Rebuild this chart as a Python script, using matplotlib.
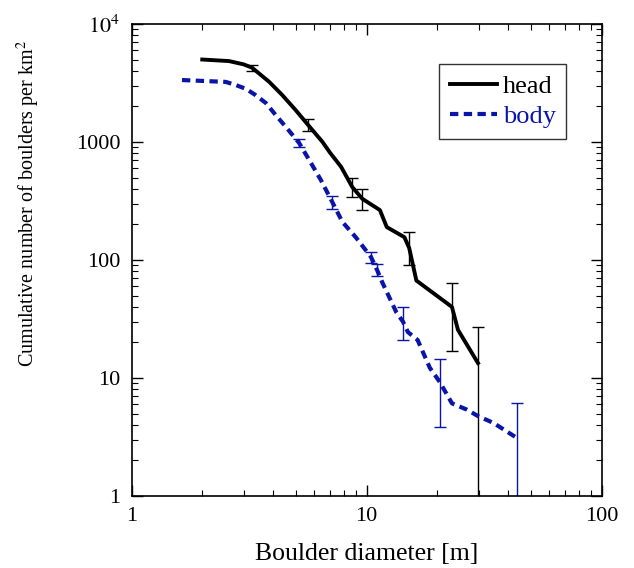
import matplotlib
matplotlib.use("Agg")
import matplotlib.pyplot as plt
import numpy as np
from matplotlib.ticker import LogLocator, FixedLocator, FixedFormatter, NullFormatter

plt.rcParams['font.family'] = ['Liberation Serif', 'DejaVu Serif']
plt.rcParams['mathtext.fontset'] = 'stix'

# Head curve
head_x = [2.0, 2.6, 3.0, 3.26, 3.85, 4.38, 5.0, 5.65, 6.5, 7.0, 7.8, 8.7, 9.6, 11.4, 12.2, 14.5, 15.2, 16.3, 23.1, 24.5, 29.8]
head_y = [5000, 4850, 4550, 4260, 3240, 2500, 1860, 1390, 1000, 810, 615, 415, 330, 265, 190, 156, 126, 67, 40, 25.6, 13.4]
# Head error bars
head_ex = [3.26, 5.65, 8.7, 9.6, 15.2, 23.1, 29.8]
head_ey = [4260, 1390, 415, 330, 126, 40, 13.4]
head_elo = [4000, 1230, 345, 265, 90, 17, 0.3]
head_ehi = [4500, 1560, 500, 400, 172, 64, 27]

# Body curve
body_x = [1.64, 2.52, 2.79, 3.07, 3.37, 3.73, 4.11, 4.54, 5.17, 5.8, 6.4, 7.15, 7.9, 9.0, 10.45, 11.1, 11.7, 13.4, 14.3, 15.0, 16.5, 18.6, 20.5, 23.1, 26.7, 29.8, 34.7, 43.7]
body_y = [3350, 3230, 3030, 2820, 2500, 2140, 1690, 1340, 980, 665, 475, 310, 210, 156, 106, 82, 64, 36, 30, 24.5, 21, 12.2, 9.25, 6.1, 5.4, 4.76, 4.16, 3.1]
# Body error bars
body_ex = [5.17, 7.15, 10.45, 11.1, 14.3, 20.5, 43.7]
body_ey = [980, 310, 106, 82, 30, 9.25, 3.1]
body_elo = [900, 270, 94, 73, 21, 3.85, 0.3]
body_ehi = [1060, 350, 117, 92, 40, 14.5, 6.1]

x_ticks = [1, 10, 100]
x_labels = ['1', '10', '100']
y_ticks = [1, 10, 100, 1000, 10000]
y_labels = ['1', '10', '100', '1000', r'$10^4$']

BLUE = '#0a14a8'

fig = plt.figure(figsize=(6.34, 5.68), dpi=100)
ax = fig.add_axes([131.5/634, 72/568, 470/634, 472/568])

ax.set_xscale('log')
ax.set_yscale('log')
ax.set_xlim(1, 100)
ax.set_ylim(1, 10000)

# error bars
hy = np.array(head_ey)
ax.errorbar(head_ex, head_ey, yerr=[hy - np.array(head_elo), np.array(head_ehi) - hy],
            fmt='none', ecolor='black', elinewidth=1.0, capsize=4, capthick=1.0, zorder=2)
by = np.array(body_ey)
ax.errorbar(body_ex, body_ey, yerr=[by - np.array(body_elo), np.array(body_ehi) - by],
            fmt='none', ecolor=BLUE, elinewidth=1.0, capsize=4, capthick=1.0, zorder=2)

ax.plot(head_x, head_y, color='black', lw=2.8, label='head', zorder=3)
ax.plot(body_x, body_y, color=BLUE, lw=3.0, dashes=(2.0, 1.3), label='body', zorder=3)

ax.xaxis.set_major_locator(FixedLocator(x_ticks))
ax.xaxis.set_major_formatter(FixedFormatter(x_labels))
ax.yaxis.set_major_locator(FixedLocator(y_ticks))
ax.yaxis.set_major_formatter(FixedFormatter(y_labels))
ax.xaxis.set_minor_locator(LogLocator(base=10, subs=np.arange(2, 10)))
ax.yaxis.set_minor_locator(LogLocator(base=10, subs=np.arange(2, 10)))
ax.xaxis.set_minor_formatter(NullFormatter())
ax.yaxis.set_minor_formatter(NullFormatter())

ax.tick_params(which='both', direction='in', top=True, right=True, labelsize=16, colors='black')
ax.tick_params(which='major', length=8, width=1.0, pad=8)
ax.tick_params(which='minor', length=4, width=0.8)
for s in ax.spines.values():
    s.set_linewidth(1.2)

ax.set_xlabel('Boulder diameter [m]', fontsize=18.5, labelpad=12)
ax.set_ylabel(r'Cumulative number of boulders per km$^2$', fontsize=14.5, labelpad=10)
ax.yaxis.set_label_coords(-0.19, 0.62)

leg = ax.legend(loc='upper right', bbox_to_anchor=(0.925, 0.915), fontsize=19, frameon=True,
                fancybox=False, edgecolor='black', handlelength=1.8, handletextpad=0.2,
                borderpad=0.4, labelspacing=0.25, borderaxespad=0)
leg.get_frame().set_linewidth(1.0)
leg.get_texts()[1].set_color(BLUE)

fig.savefig('out.png', dpi=100)
